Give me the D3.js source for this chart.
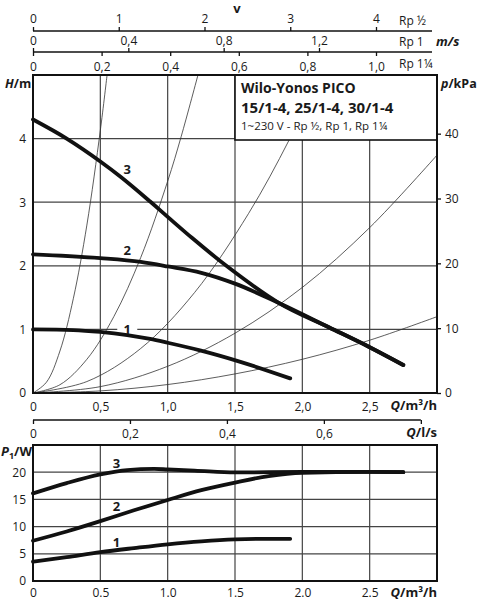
<!DOCTYPE html>
<html>
<head>
<meta charset="utf-8">
<script src="https://cdn.jsdelivr.net/npm/d3@7"></script>
<style>
  body { margin: 0; background: #fff; }
  text { font-family: "Open Sans", sans-serif; fill: #1a1a1a; }
</style>
</head>
<body>
<script>
// ---- data ----
// pump curves H(Q), Q in m3/h, H in m
var pumpQ1 = [0, 0.3, 0.5, 0.7, 0.87, 1.0, 1.24, 1.54, 1.91];
var pumpH1 = [1.00, 0.99, 0.96, 0.91, 0.85, 0.79, 0.67, 0.49, 0.23];
var pumpQ2 = [0, 0.5, 0.8, 1.0, 1.25, 1.5, 1.83, 2.2, 2.5, 2.75];
var pumpH2 = [2.18, 2.12, 2.06, 1.99, 1.89, 1.72, 1.41, 1.03, 0.72, 0.44];
var pumpQ3 = [0, 0.25, 0.5, 0.65, 0.87, 1.0, 1.18, 1.46, 1.83, 2.2, 2.5, 2.75];
var pumpH3 = [4.30, 4.00, 3.64, 3.40, 3.01, 2.77, 2.44, 1.96, 1.41, 1.03, 0.72, 0.44];

// thin system curves
var sysQA = [0, 0.1, 0.2, 0.3, 0.4, 0.5, 0.55];
var sysHA = [0, 0.17, 0.66, 1.49, 2.64, 4.13, 5.0];
var sysQB = [0, 0.2, 0.4, 0.6, 0.8, 1.0, 1.1, 1.225];
var sysHB = [0, 0.13, 0.53, 1.2, 2.13, 3.33, 4.03, 5.0];
var sysQC = [0, 0.4, 0.8, 1.2, 1.6, 1.9, 2.13];
var sysHC = [0, 0.18, 0.70, 1.58, 2.82, 3.97, 5.0];
var sysQD = [0, 0.5, 1.0, 1.5, 2.0, 2.5, 3.0];
var sysHD = [0, 0.10, 0.42, 0.94, 1.66, 2.6, 3.74];
var sysQE = [0, 0.5, 1.0, 1.5, 2.0, 2.5, 3.0];
var sysHE = [0, 0.033, 0.133, 0.30, 0.53, 0.83, 1.2];

// power curves P1(Q), W
var powQ1 = [0, 0.25, 0.5, 0.75, 1.0, 1.25, 1.5, 1.75, 1.91];
var powP1 = [3.55, 4.4, 5.3, 6.05, 6.75, 7.3, 7.65, 7.75, 7.75];
var powQ2 = [0, 0.25, 0.5, 0.75, 1.0, 1.25, 1.5, 1.75, 2.0, 2.5, 2.75];
var powP2 = [7.4, 9.1, 11.0, 13.0, 14.9, 16.7, 18.1, 19.3, 19.9, 20.05, 20.0];
var powQ3 = [0, 0.25, 0.5, 0.7, 0.9, 1.0, 1.2, 1.5, 2.0, 2.5, 2.75];
var powP3 = [16.1, 18.0, 19.6, 20.4, 20.6, 20.5, 20.3, 19.95, 20.05, 20.05, 20.0];

// ticks
var qTicks = [0, 0.5, 1, 1.5, 2, 2.5];
var hTicks = [0, 1, 2, 3, 4];
var pTicks = [0, 10, 20, 30, 40];
var wTicks = [0, 5, 10, 15, 20];
var lsTicks = [0, 0.2, 0.4, 0.6, 0.8];
var vHalfTicks = [0, 1, 2, 3, 4];
var v1Ticks = [0, 0.4, 0.8, 1.2];
var v114Ticks = [0, 0.2, 0.4, 0.6, 0.8, 1.0];

var curveLabels = ["1", "2", "3"];

// ---- drawing ----
var w = 477,
    h = 600;

var svg = d3.select("body").append("svg")
    .attr("width", w)
    .attr("height", h);

var x = d3.scaleLinear().domain([0, 3]).range([33, 437]);
var yH = d3.scaleLinear().domain([0, 5]).range([393, 75]);
var yP = d3.scaleLinear().domain([0, 5 * 9.81]).range([393, 75]);
var yW = d3.scaleLinear().domain([0, 25]).range([581, 445]);

var vHalf = d3.scaleLinear().domain([0, 4]).range([33, 376]);
var v1 = d3.scaleLinear().domain([0, 1.2]).range([33, 319]);
var v114 = d3.scaleLinear().domain([0, 1]).range([33, 376]);
var qls = d3.scaleLinear().domain([0, 0.8]).range([x(0), x(0.8 * 3.6)]);

const comma = (d) => d === 0 ? "0" : d3.format(".1f")(d).replace(".", ",");
const dot = (d) => d === 0 ? "0" : d3.format(".1f")(d);

const zip = (qs, vs) => qs.map((q, i) => [q, vs[i]]);

const styleAxis = (g) => {
    g.attr("font-family", null).attr("font-size", 12);
    g.select(".domain").remove();
    g.selectAll(".tick line").attr("stroke", "#111").attr("stroke-width", 1.3);
    g.selectAll(".tick text").attr("fill", "#1a1a1a");
};

// top velocity scales
svg.append("line").attr("x1", 33).attr("x2", 432).attr("y1", 31).attr("y2", 31)
    .attr("stroke", "#111").attr("stroke-width", 1.6);
svg.append("line").attr("x1", 33).attr("x2", 432).attr("y1", 52).attr("y2", 52)
    .attr("stroke", "#111").attr("stroke-width", 1.6);

svg.append("g").attr("transform", "translate(0,31)")
    .call(d3.axisTop(vHalf).tickValues(vHalfTicks).tickSize(4).tickPadding(4).tickFormat(d3.format("d")))
    .call(styleAxis);
svg.append("g").attr("transform", "translate(0,52)")
    .call(d3.axisTop(v1).tickValues(v1Ticks).tickSize(4).tickPadding(3).tickFormat(comma))
    .call(styleAxis);
svg.append("g").attr("transform", "translate(0,52)")
    .call(d3.axisBottom(v114).tickValues(v114Ticks).tickSize(4).tickPadding(6).tickFormat(comma))
    .call(styleAxis);

svg.append("text").attr("x", 237).attr("y", 13).attr("text-anchor", "middle")
    .attr("font-size", 13).attr("font-weight", "bold").text("v");
svg.append("text").attr("x", 399).attr("y", 25).attr("font-size", 12).text("Rp ½");
svg.append("text").attr("x", 399).attr("y", 46).attr("font-size", 12).text("Rp 1");
svg.append("text").attr("x", 399).attr("y", 68).attr("font-size", 12).text("Rp 1¼");
svg.append("text").attr("x", 436).attr("y", 46).attr("font-size", 13)
    .attr("font-weight", "bold").attr("font-style", "italic").text("m/s");

// ---- top chart: H / p ----
var topG = svg.append("g");

topG.selectAll(".vgrid").data(qTicks.slice(1)).enter().append("line")
    .attr("x1", (d) => x(d)).attr("x2", (d) => x(d))
    .attr("y1", yH(0)).attr("y2", yH(5))
    .attr("stroke", "#444").attr("stroke-width", 1.2);
topG.selectAll(".hgrid").data(hTicks.slice(1)).enter().append("line")
    .attr("x1", x(0)).attr("x2", x(3))
    .attr("y1", (d) => yH(d)).attr("y2", (d) => yH(d))
    .attr("stroke", "#444").attr("stroke-width", 1.2);

var lineSys = d3.line()
    .x((d) => x(d[0]))
    .y((d) => yH(d[1]))
    .curve(d3.curveCatmullRom.alpha(0.5));

var systemCurves = [zip(sysQA, sysHA), zip(sysQB, sysHB), zip(sysQC, sysHC), zip(sysQD, sysHD), zip(sysQE, sysHE)];
topG.selectAll(".sys").data(systemCurves).enter().append("path")
    .attr("d", lineSys)
    .attr("fill", "none")
    .attr("stroke", "#333")
    .attr("stroke-width", 0.8);

// legend box
topG.append("rect").attr("x", 235).attr("y", 75).attr("width", 202).attr("height", 65)
    .attr("fill", "#fff").attr("stroke", "#111").attr("stroke-width", 1.6);
topG.append("text").attr("x", 241).attr("y", 93).attr("font-size", 14)
    .attr("font-weight", "bold").text("Wilo-Yonos PICO");
topG.append("text").attr("x", 241).attr("y", 113).attr("font-size", 15)
    .attr("font-weight", "bold").text("15/1-4, 25/1-4, 30/1-4");
topG.append("text").attr("x", 241).attr("y", 130).attr("font-size", 11.5)
    .text("1~230 V - Rp ½, Rp 1, Rp 1¼");

// small white knockouts where a curve label sits on a grid line
var topLabelPos = [[0.7, 1.0], [0.7, 2.25], [0.7, 3.52]];
topLabelPos.forEach((p) => {
    topG.append("rect").attr("x", x(p[0]) - 10).attr("y", yH(p[1]) - 2.5)
        .attr("width", 20).attr("height", 5).attr("fill", "#fff");
});

var lineH = d3.line()
    .x((d) => x(d[0]))
    .y((d) => yH(d[1]))
    .curve(d3.curveMonotoneX);

var pumpCurves = [zip(pumpQ1, pumpH1), zip(pumpQ2, pumpH2), zip(pumpQ3, pumpH3)];
topG.selectAll(".pump").data(pumpCurves).enter().append("path")
    .attr("d", lineH)
    .attr("fill", "none")
    .attr("stroke", "#111")
    .attr("stroke-width", 3.8)
    .attr("stroke-linecap", "round");

topLabelPos.forEach((p, i) => {
    topG.append("text").attr("x", x(p[0])).attr("y", yH(p[1])).attr("dy", "0.36em")
        .attr("text-anchor", "middle").attr("font-size", 13).attr("font-weight", "bold")
        .text(curveLabels[i]);
});

topG.append("rect").attr("x", x(0)).attr("y", yH(5))
    .attr("width", x(3) - x(0)).attr("height", yH(0) - yH(5))
    .attr("fill", "none").attr("stroke", "#111").attr("stroke-width", 2);

topG.append("g").attr("transform", "translate(" + x(0) + ",0)")
    .call(d3.axisLeft(yH).tickValues(hTicks).tickSize(0).tickPadding(7).tickFormat(d3.format("d")))
    .call(styleAxis);
topG.append("g").attr("transform", "translate(" + x(3) + ",0)")
    .call(d3.axisRight(yP).tickValues(pTicks).tickSize(4).tickPadding(4))
    .call(styleAxis);
topG.append("g").attr("transform", "translate(0," + yH(0) + ")")
    .call(d3.axisBottom(x).tickValues(qTicks).tickSize(0).tickPadding(9).tickFormat(comma))
    .call(styleAxis);

var hLab = svg.append("text").attr("x", 5).attr("y", 88).attr("font-size", 12.5).attr("font-weight", "bold");
hLab.append("tspan").attr("font-style", "italic").text("H");
hLab.append("tspan").text("/m");
var pLab = svg.append("text").attr("x", 441).attr("y", 88).attr("font-size", 12.5).attr("font-weight", "bold");
pLab.append("tspan").attr("font-style", "italic").text("p");
pLab.append("tspan").text("/kPa");

var q1Lab = svg.append("text").attr("x", 437).attr("y", 410).attr("text-anchor", "end")
    .attr("font-size", 13).attr("font-weight", "bold");
q1Lab.append("tspan").attr("font-style", "italic").text("Q");
q1Lab.append("tspan").text("/m³/h");

// l/s scale (last tick carries no number, the unit sits there)
svg.append("line").attr("x1", qls(0)).attr("x2", qls(0.8)).attr("y1", 420).attr("y2", 420)
    .attr("stroke", "#111").attr("stroke-width", 1.6);
svg.append("g").attr("transform", "translate(0,420)")
    .call(d3.axisBottom(qls).tickValues(lsTicks).tickSize(4).tickPadding(5)
        .tickFormat((d) => d === 0.8 ? "" : comma(d)))
    .call(styleAxis);
var q2Lab = svg.append("text").attr("x", 437).attr("y", 437).attr("text-anchor", "end")
    .attr("font-size", 13).attr("font-weight", "bold");
q2Lab.append("tspan").attr("font-style", "italic").text("Q");
q2Lab.append("tspan").text("/l/s");

// ---- bottom chart: P1 ----
var botG = svg.append("g");

botG.selectAll(".vgrid").data(qTicks.slice(1)).enter().append("line")
    .attr("x1", (d) => x(d)).attr("x2", (d) => x(d))
    .attr("y1", yW(0)).attr("y2", yW(25))
    .attr("stroke", "#444").attr("stroke-width", 1.2);
botG.selectAll(".hgrid").data(wTicks.slice(1)).enter().append("line")
    .attr("x1", x(0)).attr("x2", x(3))
    .attr("y1", (d) => yW(d)).attr("y2", (d) => yW(d))
    .attr("stroke", "#444").attr("stroke-width", 1.2);

var lineW = d3.line()
    .x((d) => x(d[0]))
    .y((d) => yW(d[1]))
    .curve(d3.curveMonotoneX);

var powerCurves = [zip(powQ1, powP1), zip(powQ2, powP2), zip(powQ3, powP3)];
botG.selectAll(".pow").data(powerCurves).enter().append("path")
    .attr("d", lineW)
    .attr("fill", "none")
    .attr("stroke", "#111")
    .attr("stroke-width", 3.8)
    .attr("stroke-linecap", "round");

var botLabelPos = [[0.62, 7.1], [0.62, 13.7], [0.62, 21.6]];
botLabelPos.forEach((p, i) => {
    botG.append("text").attr("x", x(p[0])).attr("y", yW(p[1])).attr("dy", "0.36em")
        .attr("text-anchor", "middle").attr("font-size", 13).attr("font-weight", "bold")
        .text(curveLabels[i]);
});

botG.append("rect").attr("x", x(0)).attr("y", yW(25))
    .attr("width", x(3) - x(0)).attr("height", yW(0) - yW(25))
    .attr("fill", "none").attr("stroke", "#111").attr("stroke-width", 2);

botG.append("g").attr("transform", "translate(" + x(0) + ",0)")
    .call(d3.axisLeft(yW).tickValues(wTicks).tickSize(0).tickPadding(7).tickFormat(d3.format("d")))
    .call(styleAxis);
botG.append("g").attr("transform", "translate(0," + yW(0) + ")")
    .call(d3.axisBottom(x).tickValues(qTicks).tickSize(0).tickPadding(7.5).tickFormat(dot))
    .call(styleAxis);

var wLab = svg.append("text").attr("x", 1).attr("y", 456).attr("font-size", 13).attr("font-weight", "bold");
wLab.append("tspan").attr("font-style", "italic").text("P");
wLab.append("tspan").attr("font-size", 9).attr("dy", 3).text("1");
wLab.append("tspan").attr("dy", -3).text("/W");

var q3Lab = svg.append("text").attr("x", 437).attr("y", 597).attr("text-anchor", "end")
    .attr("font-size", 13).attr("font-weight", "bold");
q3Lab.append("tspan").attr("font-style", "italic").text("Q");
q3Lab.append("tspan").text("/m³/h");
</script>
</body>
</html>
